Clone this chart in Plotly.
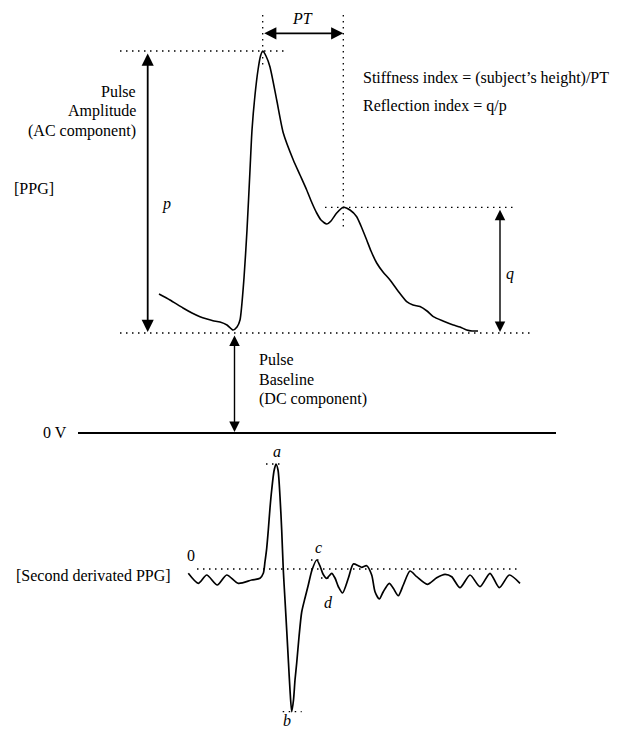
import plotly.graph_objects as go

# ---- data (diagram units: horizontal = time axis, vertical = signal level, top-down) ----
ppg_time = [159, 170, 183, 192, 200, 207, 213, 220, 227, 233, 237, 240, 244, 247, 250, 252, 255, 258, 260.5,
            262.7, 266, 270, 276.7, 283.3, 293.3, 300, 306.7, 312, 316.7, 321, 326.7, 331, 336.7, 343.3, 350,
            356.7, 361, 366.7, 371, 376.7, 383, 390, 398, 406.7, 413, 420, 427, 433.3, 443, 453.3, 460, 466.7,
            472, 478]
ppg_level = [294, 300, 308, 313, 316.7, 319, 320.7, 322, 325, 330, 327, 320, 278, 230, 170, 130, 95, 70, 56,
             51, 56, 67, 100, 133, 160, 175, 190, 203, 213, 220, 224, 221, 213, 207.3, 210, 216.7, 226, 240, 251,
             263, 272, 280, 291, 301.7, 305, 306.5, 311, 316.7, 321, 325, 327, 330, 331, 331]

sd_time = [188.3, 198.3, 206.7, 217.3, 226.7, 238.3, 251.7, 260, 263.3, 265, 266.7, 268.3, 270, 271.7, 274, 276,
           278, 280, 281.7, 283.3, 285, 286.7, 288.5, 290, 291.7, 293.5, 295, 296.7, 299, 301.7, 305, 308.3, 312,
           316.7, 320, 323, 326.7, 329, 331.7, 335, 338.5, 342.5, 348.3, 353.3, 358.3, 361.7, 366.7, 371.7, 375,
           379.3, 383.3, 389.3, 393.3, 398.3, 403.3, 410, 416.7, 427.3, 436.7, 445, 451.7, 460, 470, 480, 490,
           499.3, 509.3, 520]
sd_level = [573.3, 583.3, 575, 585, 575, 583.3, 580, 578.3, 573.3, 561.7, 548.3, 530, 508, 490, 471, 464,
            470, 496.7, 530, 570, 600, 630, 663, 690, 711.7, 700, 680, 663, 637, 612, 598, 585, 570,
            560, 566, 574, 578.3, 576, 573.3, 578, 587, 593, 578.3, 564, 565.7, 567.3, 565.7, 575, 591.7,
            599, 591.7, 583.3, 588.3, 595.7, 585, 571, 576.7, 584.3, 577.7, 574.3, 576.7, 587.7, 575, 586.7,
            573.3, 587.7, 575, 583.3]

ppg_labels = ["Pulse", "Amplitude", "(AC component)"]
dc_labels = ["Pulse", "Baseline", "(DC component)"]
index_texts = ["Stiffness index = (subject\u2019s height)/PT", "Reflection index = q/p"]

FONT = "Liberation Serif"
FS = 16
PAGE_OFFSET = 8  # default body margin of the html page

fig = go.Figure()
fig.add_trace(go.Scatter(x=ppg_time, y=ppg_level, mode="lines",
                         line=dict(color="black", width=1.6, shape="spline", smoothing=0.6),
                         hoverinfo="skip", showlegend=False))
fig.add_trace(go.Scatter(x=sd_time, y=sd_level, mode="lines",
                         line=dict(color="black", width=1.7, shape="spline", smoothing=0.7),
                         hoverinfo="skip", showlegend=False))

# reference levels derived from the data
peak_y = min(ppg_level)
peak_x = ppg_time[ppg_level.index(peak_y)]
base_y = 333
dia_y = 207.3
dia_x = 343.3
zero_v = 433
sd_zero = 569
a_y = min(sd_level); a_x = sd_time[sd_level.index(a_y)]
b_y = max(sd_level); b_x = sd_time[sd_level.index(b_y)]

dot = dict(color="black", width=1.3, dash="1.5px,4.5px")
shapes = [
    dict(type="line", x0=120, x1=288, y0=peak_y, y1=peak_y, line=dot),
    dict(type="line", x0=120, x1=530, y0=base_y, y1=base_y, line=dot),
    dict(type="line", x0=325, x1=517, y0=dia_y, y1=dia_y, line=dot),
    dict(type="line", x0=peak_x, x1=peak_x, y0=15, y1=67, line=dot),
    dict(type="line", x0=dia_x, x1=dia_x, y0=15, y1=227, line=dot),
    dict(type="line", x0=78, x1=556, y0=zero_v, y1=zero_v, line=dict(color="black", width=2)),
    dict(type="line", x0=197, x1=517, y0=sd_zero, y1=sd_zero, line=dot),
    dict(type="line", x0=a_x - 10, x1=a_x + 8, y0=a_y, y1=a_y, line=dot),
    dict(type="line", x0=b_x - 9, x1=b_x + 10, y0=b_y, y1=b_y, line=dot),
    dict(type="line", x0=311, x1=322, y0=560, y1=560, line=dot),
    dict(type="line", x0=321, x1=332, y0=578, y1=578, line=dot),
]
for s in shapes:
    s.update(xref="x", yref="y", layer="below")
fig.update_layout(shapes=shapes)

def darrow(x0, y0, x1, y1, w=1.6, size=1.3):
    fig.add_annotation(x=x1, y=y1, ax=x0, ay=y0, xref="x", yref="y", axref="x", ayref="y",
                       text="", showarrow=True, arrowhead=2, startarrowhead=2, arrowside="end+start",
                       arrowsize=size, startarrowsize=size, arrowwidth=w, arrowcolor="black",
                       standoff=0, startstandoff=0)

darrow(peak_x, 33.3, dia_x, 33.3, 1.8, 1.35)
darrow(147.7, peak_y + 1, 147.7, base_y - 1, 1.8, 1.35)
darrow(500, dia_y + 1, 500, base_y - 1, 1.4, 1.5)
darrow(234.5, base_y + 1, 234.5, zero_v - 1, 1.4, 1.5)

def txt(x, y, s, anchor="left", size=FS):
    fig.add_annotation(x=x, y=y, xref="x", yref="y", text=s, showarrow=False, xanchor=anchor, yanchor="middle",
                       font=dict(family=FONT, size=size, color="black"))

for i, s in enumerate(ppg_labels):
    txt(137.5, 91 + 20 * i, s, "right")
for i, s in enumerate(dc_labels):
    txt(257, 359 + 20 * i, s, "left")
txt(361, 78, index_texts[0])
txt(361, 106, index_texts[1])
txt(12, 188, "[PPG]")
txt(302, 18, "<i>PT</i>", "center")
txt(166, 204, "<i>p</i>", "center")
txt(510, 274, "<i>q</i>", "center")
txt(41, 432, "0 V")
txt(191, 555, "0", "center")
txt(14, 575, "[Second derivated PPG]")
txt(277, 451, "<i>a</i>", "center")
txt(287, 720, "<i>b</i>", "center")
txt(318, 547, "<i>c</i>", "center")
txt(328, 602, "<i>d</i>", "center")

W, H = 619, 729
fig.update_xaxes(range=[PAGE_OFFSET, W], visible=False, fixedrange=True)
fig.update_yaxes(range=[H, PAGE_OFFSET], visible=False, fixedrange=True)
fig.update_layout(width=W - PAGE_OFFSET, height=H - PAGE_OFFSET, margin=dict(l=0, r=0, t=0, b=0, pad=0),
                  plot_bgcolor="white", paper_bgcolor="white", showlegend=False)
fig.write_html("out.html")
